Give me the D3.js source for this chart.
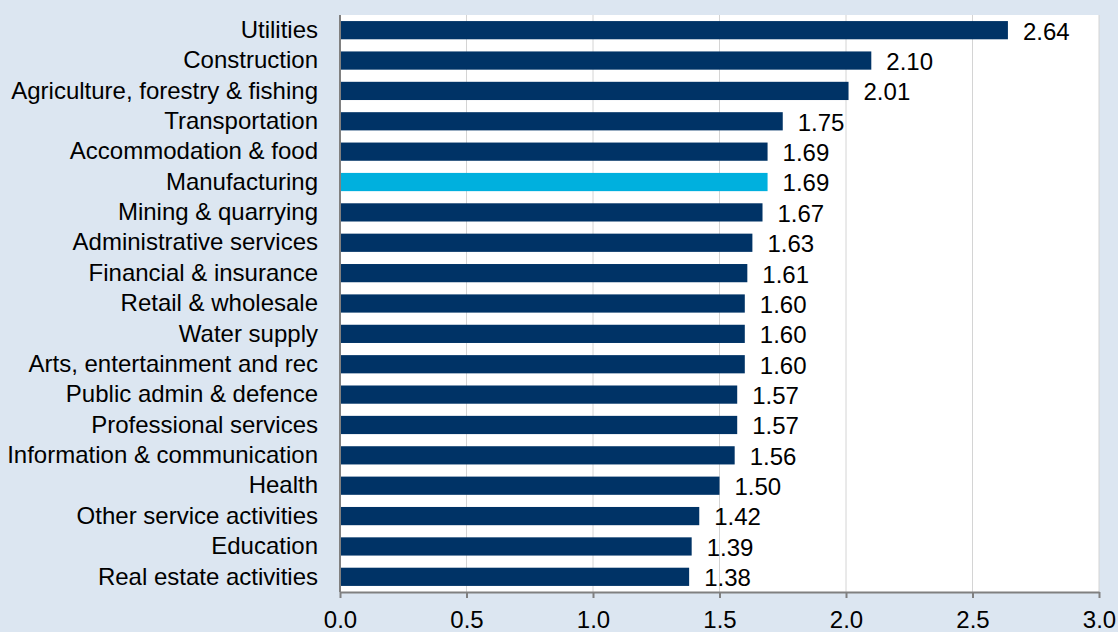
<!DOCTYPE html>
<html>
<head>
<meta charset="utf-8">
<script src="https://cdn.jsdelivr.net/npm/d3@7"></script>
<style>
  body { margin: 0; background: #dce6f1; }
  text { font-family: "Liberation Sans", Arial, sans-serif; }
</style>
</head>
<body>
<div id="container"></div>
<script>
/* CONSTANTS AND GLOBALS */
const width = 1118,
      height = 632,
      margin = {top: 15, bottom: 40, left: 340, right: 19},
      fontSize = 24;

/* DATA */
const sectors = ["Utilities", "Construction", "Agriculture, forestry & fishing", "Transportation",
  "Accommodation & food", "Manufacturing", "Mining & quarrying", "Administrative services",
  "Financial & insurance", "Retail & wholesale", "Water supply", "Arts, entertainment and rec",
  "Public admin & defence", "Professional services", "Information & communication", "Health",
  "Other service activities", "Education", "Real estate activities"];
const values = [2.64, 2.10, 2.01, 1.75, 1.69, 1.69, 1.67, 1.63, 1.61, 1.60, 1.60, 1.60,
  1.57, 1.57, 1.56, 1.50, 1.42, 1.39, 1.38];
const highlight = "Manufacturing";
const xTicks = [0, 0.5, 1.0, 1.5, 2.0, 2.5, 3.0];

const data = sectors.map((s, i) => ({sector: s, value: values[i]}));

/* SCALES */
const xScale = d3.scaleLinear()
                 .domain([0, 3])
                 .range([margin.left, width - margin.right])

const yScale = d3.scaleBand()
                 .domain(sectors)
                 .range([margin.top, height - margin.bottom])
                 .paddingInner(0.4)
                 .paddingOuter(0.2)

/* HTML ELEMENTS */
const svg = d3.select("#container")
              .append("svg")
              .attr("width", width)
              .attr("height", height)

// plot area
svg.append("rect")
   .attr("x", margin.left)
   .attr("y", margin.top)
   .attr("width", xScale(3) - margin.left)
   .attr("height", height - margin.bottom - margin.top)
   .attr("fill", "#ffffff")

// gridlines
svg.append("g")
   .selectAll("line")
   .data(xTicks.slice(1))
   .join("line")
   .attr("x1", d => xScale(d))
   .attr("x2", d => xScale(d))
   .attr("y1", margin.top)
   .attr("y2", height - margin.bottom)
   .attr("stroke", "#d4d4d4")
   .attr("stroke-width", 1)

// bars
svg.selectAll("rect.bar")
   .data(data)
   .join("rect")
   .attr("class", "bar")
   .attr("x", xScale(0))
   .attr("y", d => yScale(d.sector))
   .attr("width", d => xScale(d.value) - xScale(0))
   .attr("height", yScale.bandwidth())
   .attr("fill", d => d.sector === highlight ? "#00b0de" : "#003366")

// value labels
svg.selectAll("text.val")
   .data(data)
   .join("text")
   .attr("class", "val")
   .attr("x", d => xScale(d.value) + 15)
   .attr("y", d => yScale(d.sector) + yScale.bandwidth() / 2 + 1)
   .attr("dy", "0.35em")
   .attr("font-size", fontSize)
   .attr("fill", "#000")
   .text(d => d.value.toFixed(2))

// x axis
const xAxis = d3.axisBottom(xScale)
                .tickValues(xTicks)
                .tickFormat(d3.format(".1f"))
                .tickSize(6)
                .tickSizeOuter(0)

const gx = svg.append("g")
   .attr("transform", `translate(0, ${height - margin.bottom})`)
   .call(xAxis);
gx.select(".domain").attr("stroke", "#808080").attr("stroke-width", 2)
gx.selectAll(".tick line").attr("stroke", "#808080").attr("stroke-width", 2)
gx.selectAll(".tick text")
  .attr("font-size", fontSize)
  .attr("fill", "#000")
  .attr("font-family", "Liberation Sans, Arial, sans-serif")
  .attr("dy", "27px")

// y axis
const yAxis = d3.axisLeft(yScale).tickSize(0).tickPadding(22)
const gy = svg.append("g")
   .attr("transform", `translate(${margin.left}, 0)`)
   .call(yAxis);
gy.select(".domain").attr("stroke", "#808080").attr("stroke-width", 2)
  .attr("d", `M0,${margin.top}V${height - margin.bottom}`)
gy.selectAll(".tick text")
  .attr("font-size", fontSize)
  .attr("fill", "#000")
  .attr("font-family", "Liberation Sans, Arial, sans-serif")
</script>
</body>
</html>
